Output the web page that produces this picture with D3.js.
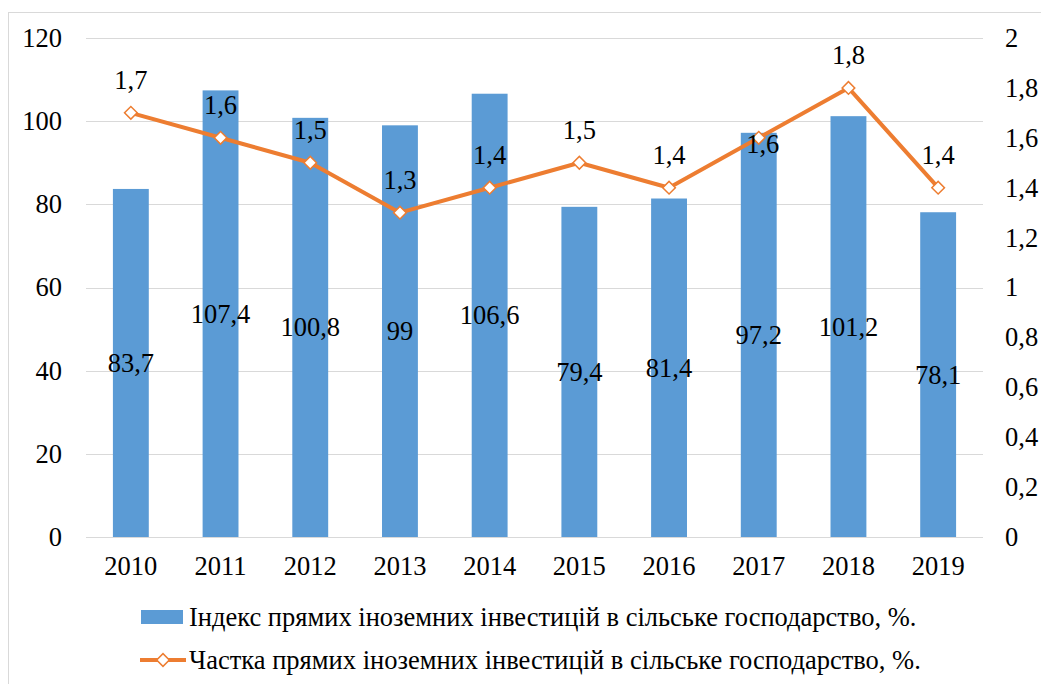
<!DOCTYPE html>
<html>
<head>
<meta charset="utf-8">
<script src="https://cdn.jsdelivr.net/npm/d3@7"></script>
<style>
  html, body { margin: 0; padding: 0; background: #fff; }
  svg { display: block; }
</style>
</head>
<body>
<svg id="chart" width="1041" height="684"></svg>
<script>
const years = ["2010","2011","2012","2013","2014","2015","2016","2017","2018","2019"];
const indexValues = [83.7, 107.4, 100.8, 99, 106.6, 79.4, 81.4, 97.2, 101.2, 78.1];
const shareValues = [1.7, 1.6, 1.5, 1.3, 1.4, 1.5, 1.4, 1.6, 1.8, 1.4];
const leftTicks = [0, 20, 40, 60, 80, 100, 120];
const rightTicks = [0, 0.2, 0.4, 0.6, 0.8, 1, 1.2, 1.4, 1.6, 1.8, 2];
const seriesNames = [
  "Індекс прямих іноземних інвестицій в сільське господарство, %.",
  "Частка прямих іноземних інвестицій в сільське господарство, %."
];

const barColor = "#5B9BD5";
const lineColor = "#ED7D31";
const gridColor = "#d9d9d9";
const FONT = '"Liberation Serif"';
const FS = 26.5;
const fmt = v => String(v).replace(".", ",");

const svg = d3.select("#chart");
const plot = { left: 86, right: 983, top: 38, bottom: 537 };

function styleText(sel) {
  return sel.style("font-family", FONT).style("font-size", FS + "px").style("fill", "#000");
}

// outer frame
svg.append("rect")
  .attr("x", 8.5).attr("y", 12.5)
  .attr("width", 1100).attr("height", 800)
  .attr("fill", "none").attr("stroke", gridColor).attr("stroke-width", 1);

const x = d3.scaleBand().domain(years).range([plot.left, plot.right])
  .paddingInner(0.6).paddingOuter(0.3);
const yL = d3.scaleLinear().domain([0, 120]).range([plot.bottom, plot.top]);
const yR = d3.scaleLinear().domain([0, 2]).range([plot.bottom, plot.top]);

// gridlines
svg.append("g").selectAll("line").data(leftTicks).join("line")
  .attr("x1", plot.left).attr("x2", plot.right)
  .attr("y1", d => Math.round(yL(d)) + 0.5).attr("y2", d => Math.round(yL(d)) + 0.5)
  .attr("stroke", gridColor).attr("stroke-width", 1.2);

// left axis
const gL = svg.append("g").attr("transform", `translate(62,0)`)
  .call(d3.axisLeft(yL).tickValues(leftTicks).tickSize(0).tickPadding(0));
gL.attr("font-family", null).attr("font-size", null);
gL.select(".domain").remove();
styleText(gL.selectAll("text"));

// right axis
const gR = svg.append("g").attr("transform", `translate(1005,0)`)
  .call(d3.axisRight(yR).tickValues(rightTicks).tickSize(0).tickPadding(0).tickFormat(fmt));
gR.attr("font-family", null).attr("font-size", null);
gR.select(".domain").remove();
styleText(gR.selectAll("text"));

// bottom axis
const gB = svg.append("g").attr("transform", `translate(0,${plot.bottom + 19})`)
  .call(d3.axisBottom(x).tickSize(0).tickPadding(0));
gB.attr("font-family", null).attr("font-size", null);
gB.select(".domain").remove();
styleText(gB.selectAll("text"));

// bars
svg.append("g").selectAll("rect").data(years).join("rect")
  .attr("x", d => x(d)).attr("width", x.bandwidth())
  .attr("y", (d, i) => yL(indexValues[i]))
  .attr("height", (d, i) => yL(0) - yL(indexValues[i]))
  .attr("fill", barColor);

// bar labels (centered in bar)
styleText(svg.append("g").selectAll("text").data(years).join("text")
  .attr("x", d => x(d) + x.bandwidth() / 2)
  .attr("y", (d, i) => yL(indexValues[i] / 2))
  .attr("text-anchor", "middle").attr("dominant-baseline", "central")
  .text((d, i) => fmt(indexValues[i])));

// line
const cx = d => x(d) + x.bandwidth() / 2;
const line = d3.line().x((d, i) => cx(years[i])).y(d => yR(d));
svg.append("path").datum(shareValues)
  .attr("d", line).attr("fill", "none")
  .attr("stroke", lineColor).attr("stroke-width", 4).attr("stroke-linejoin", "round");

const marker = d3.symbol().type(d3.symbolSquare).size(80);
svg.append("g").selectAll("path").data(shareValues).join("path")
  .attr("transform", (d, i) => `translate(${cx(years[i])},${yR(d)}) rotate(45)`)
  .attr("d", marker)
  .attr("fill", "#fff").attr("stroke", lineColor).attr("stroke-width", 1.5);

// line labels
const labelBelow = "2017";
styleText(svg.append("g").selectAll("text").data(shareValues).join("text")
  .attr("x", (d, i) => cx(years[i]) + (years[i] === labelBelow ? 4 : 0))
  .attr("y", (d, i) => yR(d) + (years[i] === labelBelow ? 6 : -33))
  .attr("text-anchor", "middle").attr("dominant-baseline", "central")
  .text(d => fmt(d)));

// legend
const lg = svg.append("g");
lg.append("rect").attr("x", 141).attr("y", 610).attr("width", 42).attr("height", 14).attr("fill", barColor);
styleText(lg.append("text").attr("x", 189).attr("y", 617).attr("dominant-baseline", "central")
  .text(seriesNames[0]));
lg.append("line").attr("x1", 140).attr("x2", 186).attr("y1", 660).attr("y2", 660)
  .attr("stroke", lineColor).attr("stroke-width", 4);
lg.append("path").attr("transform", "translate(163,660) rotate(45)")
  .attr("d", marker)
  .attr("fill", "#fff").attr("stroke", lineColor).attr("stroke-width", 1.5);
styleText(lg.append("text").attr("x", 189).attr("y", 660).attr("dominant-baseline", "central")
  .text(seriesNames[1]));
</script>
</body>
</html>
